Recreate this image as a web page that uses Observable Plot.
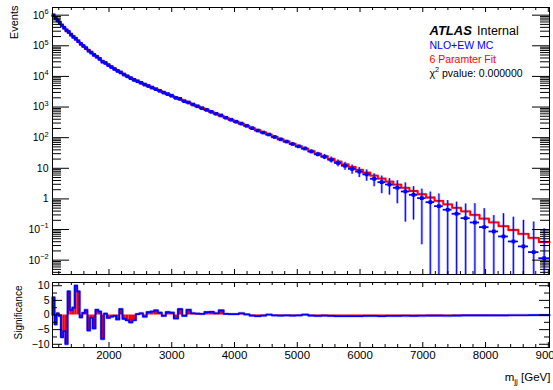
<!DOCTYPE html>
<html>
<head>
<meta charset="utf-8">
<script src="https://cdn.jsdelivr.net/npm/d3@7"></script>
<script src="https://cdn.jsdelivr.net/npm/@observablehq/plot@0.6"></script>
<style>
  html, body { margin: 0; padding: 0; background: #fff; overflow: hidden; }
  #chart { position: relative; width: 553px; height: 390px; background: #fff; }
  #chart svg { position: absolute; left: 0; }
</style>
</head>
<body>
<div id="chart"></div>
<script>
// Dijet invariant mass: NLO+EW MC compared with a 6-parameter fit, plus per-bin significance.

// Bin edges in m_jj [GeV]
const binEdges = [1100, 1133, 1166, 1200, 1234, 1269, 1305, 1341, 1378, 1416, 1454, 1493, 1533, 1573, 1614, 1656, 1698,
  1741, 1785, 1830, 1875, 1921, 1968, 2016, 2065, 2114, 2164, 2215, 2267, 2320, 2374, 2429, 2485, 2542, 2600,
  2659, 2719, 2780, 2842, 2905, 2969, 3034, 3100, 3167, 3235, 3305, 3376, 3448, 3521, 3596, 3672, 3749, 3827,
  3907, 3988, 4070, 4154, 4239, 4326, 4414, 4504, 4595, 4688, 4782, 4878, 4975, 5074, 5175, 5277, 5381, 5487,
  5595, 5705, 5817, 5931, 6047, 6165, 6285, 6407, 6531, 6658, 6787, 6918, 7052, 7188, 7326, 7467, 7610, 7756,
  7904, 8055, 8208, 8364, 8523, 8685, 8850, 9019];

// MC events per bin
const mcCounts = [9.95e5, 8.07e5, 6.79e5, 5.64e5, 4.61e5, 3.87e5, 3.19e5, 2.82e5, 2.31e5, 1.95e5,
  1.70e5, 1.41e5, 1.16e5, 9.85e4, 8.40e4, 6.91e4, 5.99e4, 5.03e4, 4.39e4, 3.74e4,
  3.02e4, 2.75e4, 2.34e4, 2.02e4, 1.75e4, 1.51e4, 1.35e4, 1.15e4, 1.01e4, 8.80e3,
  7.69e3, 6.95e3, 6.18e3, 5.42e3, 4.87e3, 4.32e3, 3.84e3, 3.39e3, 2.96e3, 2.65e3,
  2.34e3, 1.99e3, 1.85e3, 1.55e3, 1.41e3, 1.21e3, 1.06e3, 918, 806, 699,
  602, 532, 447, 385, 332, 288, 244, 204, 171, 147,
  127, 105, 88.2, 74.6, 62.0, 52.0, 44.2, 35.3, 28.6, 23.8,
  19.0, 14.9, 12.1, 9.55, 7.77, 6.30, 4.54, 3.52, 2.96, 2.31,
  1.75, 1.36, 1.06, 0.783, 0.579, 0.443, 0.327, 0.235, 0.170, 0.120,
  0.0865, 0.0594, 0.0408, 0.0281, 0.0183, 0.0116];

// MC statistical uncertainty, relative to the bin content
const mcRelErr = [0.003, 0.003, 0.003, 0.003, 0.003, 0.003, 0.003, 0.003, 0.003, 0.003,
  0.004, 0.004, 0.004, 0.004, 0.004, 0.004, 0.004, 0.004, 0.004, 0.004,
  0.006, 0.006, 0.006, 0.006, 0.006, 0.006, 0.006, 0.006, 0.006, 0.006,
  0.010, 0.010, 0.010, 0.010, 0.010, 0.010, 0.010, 0.010, 0.010, 0.010,
  0.016, 0.016, 0.016, 0.016, 0.016, 0.016, 0.016, 0.016, 0.016, 0.016,
  0.024, 0.024, 0.024, 0.024, 0.03, 0.035, 0.04, 0.045, 0.05, 0.055,
  0.06, 0.065, 0.07, 0.075, 0.08, 0.09, 0.11, 0.13, 0.16, 0.19,
  0.22, 0.25, 0.29, 0.33, 0.36, 0.40, 0.45, 0.58, 0.55, 0.70,
  0.90, 0.85, 0.97, 1.13, 1.5, 1.0, 1.4, 1.9, 3.1, 3.0,
  2.3, 4.5, 5.2, 6.1, 8.6, 8.1];

// Fit prediction per bin
const fitCounts = [9.77e5, 8.15e5, 6.78e5, 5.65e5, 4.72e5, 3.93e5, 3.29e5, 2.75e5, 2.30e5, 1.94e5,
  1.63e5, 1.37e5, 1.16e5, 9.82e4, 8.34e4, 7.06e4, 6.01e4, 5.12e4, 4.36e4, 3.72e4,
  3.18e4, 2.74e4, 2.35e4, 2.03e4, 1.75e4, 1.52e4, 1.33e4, 1.16e4, 1.02e4, 8.93e3,
  7.83e3, 6.93e3, 6.14e3, 5.45e3, 4.82e3, 4.27e3, 3.78e3, 3.36e3, 2.97e3, 2.62e3,
  2.31e3, 2.03e3, 1.79e3, 1.56e3, 1.37e3, 1.20e3, 1.05e3, 912, 793, 687,
  594, 513, 443, 382, 329, 282, 242, 206, 175, 149,
  126, 106, 89.5, 75.2, 63.0, 52.5, 43.7, 36.2, 30.0, 24.7,
  20.3, 16.6, 13.5, 11.0, 8.89, 7.16, 5.75, 4.60, 3.67, 2.91,
  2.30, 1.81, 1.42, 1.11, 0.859, 0.665, 0.512, 0.393, 0.299, 0.227,
  0.172, 0.129, 0.0966, 0.0719, 0.0532, 0.0391];

// Significance of MC vs fit per bin
const significance = [6.0, -3.2, 0.6, -0.3, -7.6, -5.5, -9.9, 8.1, 1.7, 2.5,
  10.0, 8.1, -0.8, 0.7, 1.7, -5.3, -1.0, -4.6, 1.8, 1.2,
  -8.2, 0.5, -1.0, -0.6, -0.3, -1.5, 2.0, -1.3, -1.8, -2.5,
  -1.8, 0.3, 0.6, -0.6, 1.0, 1.2, 1.6, 0.8, -0.3, 1.0,
  0.8, -1.2, 2.0, -0.3, 1.8, 0.6, 0.5, 0.4, 1.0, 1.1,
  0.6, 1.6, 0.4, 0.3, 0.3, 0.6, 0.2, -0.2, -0.4, -0.2,
  0.1, -0.1, -0.2, -0.1, -0.2, -0.1, 0.1, -0.2, -0.3, -0.2,
  -0.3, -0.4, -0.35, -0.4, -0.35, -0.3, -0.3, -0.35, -0.3, -0.3,
  -0.25, -0.3, -0.25, -0.2, -0.2, -0.25, -0.2, -0.15, -0.15, -0.15,
  -0.1, -0.1, -0.08, -0.08, -0.05, -0.05];

// Axis ticks and labels
const xMajorTicks = [2000, 3000, 4000, 5000, 6000, 7000, 8000, 9000];
const yMajorTicks = [1e-2, 1e-1, 1, 10, 1e2, 1e3, 1e4, 1e5, 1e6];
const yTickLabels = ["10^{-2}", "10^{-1}", "1", "10", "10^{2}", "10^{3}", "10^{4}", "10^{5}", "10^{6}"];
const sigMajorTicks = [-10, -5, 0, 5, 10];
const sigMinorTicks = [-7.5, -2.5, 2.5, 7.5];

const X_DOMAIN = [binEdges[0], binEdges[binEdges.length - 1]];
const Y_DOMAIN = [0.0034, 1.78e6];
const SIG_DOMAIN = [-11.1, 11.1];

const BLUE = "#0000ff";
const RED = "#ff0000";
const FONT = "'Liberation Sans', Arial, Helvetica, sans-serif";

// layout
const W = 553, ML = 52, MR = 4;
const H1 = 278, MT1 = 7, MB1 = 4;
const H2 = 112, MT2 = 4, MB2 = 43;
const FW = W - ML - MR;
const FH1 = H1 - MT1 - MB1;
const FH2 = H2 - MT2 - MB2;

const xMinorTicks = d3.range(1200, 9000, 200).filter(v => v % 1000 !== 0);
const yMinorTicks = d3.range(-3, 6).flatMap(e => d3.range(2, 10).map(k => k * 10 ** e))
  .filter(v => v > Y_DOMAIN[0] && v < Y_DOMAIN[1]);

const bins = binEdges.slice(0, -1).map((lo, i) => {
  const hi = binEdges[i + 1];
  const mc = mcCounts[i];
  const err = mcRelErr[i] * mc;
  return {
    lo, hi, mid: (lo + hi) / 2, mc, fit: fitCounts[i], sig: significance[i],
    upper: mc + err,
    lower: mc - err > Y_DOMAIN[0] ? mc - err : Y_DOMAIN[0]
  };
});

const fitSteps = bins.flatMap(b => [{x: b.lo, y: b.fit}, {x: b.hi, y: b.fit}]);
const sigSteps = [{x: X_DOMAIN[0], y: 0},
  ...bins.flatMap(b => [{x: b.lo, y: b.sig}, {x: b.hi, y: b.sig}]),
  {x: X_DOMAIN[1], y: 0}];

// inward ticks on all four sides of a frame
function frameTicks({xMajor, xMinor, yMajor, yMinor, fh, xLen, yLen}) {
  const [xl, xs] = xLen, [yl, ys] = yLen;
  return [
    Plot.tickX(xMajor, {x: d => d, insetTop: fh - xl, stroke: "black"}),
    Plot.tickX(xMinor, {x: d => d, insetTop: fh - xs, stroke: "black"}),
    Plot.tickX(xMajor, {x: d => d, insetBottom: fh - xl, stroke: "black"}),
    Plot.tickX(xMinor, {x: d => d, insetBottom: fh - xs, stroke: "black"}),
    Plot.tickY(yMajor, {y: d => d, insetRight: FW - yl, stroke: "black"}),
    Plot.tickY(yMinor, {y: d => d, insetRight: FW - ys, stroke: "black"}),
    Plot.tickY(yMajor, {y: d => d, insetLeft: FW - yl, stroke: "black"}),
    Plot.tickY(yMinor, {y: d => d, insetLeft: FW - ys, stroke: "black"})
  ];
}

const spectrumPlot = Plot.plot({
  width: W, height: H1,
  marginTop: MT1, marginBottom: MB1, marginLeft: ML, marginRight: MR,
  style: {fontFamily: FONT, background: "white"},
  x: {type: "linear", domain: X_DOMAIN, axis: null, label: null},
  y: {type: "log", domain: Y_DOMAIN, label: null},
  marks: [
    Plot.line(fitSteps, {x: "x", y: "y", stroke: RED, strokeWidth: 3, strokeOpacity: 0.3}),
    Plot.line(fitSteps, {x: "x", y: "y", stroke: RED, strokeWidth: 1.8}),
    Plot.ruleX(bins, {x: "mid", y1: "lower", y2: "upper", stroke: BLUE, strokeWidth: 2.6, strokeOpacity: 0.35}),
    Plot.ruleX(bins, {x: "mid", y1: "lower", y2: "upper", stroke: BLUE, strokeWidth: 1}),
    Plot.ruleY(bins, {y: "mc", x1: "lo", x2: "hi", stroke: BLUE, strokeWidth: 1.8}),
    Plot.dot(bins, {x: "mid", y: "mc", symbol: "square", r: 2.1, fill: BLUE}),
    ...frameTicks({xMajor: xMajorTicks, xMinor: xMinorTicks, yMajor: yMajorTicks, yMinor: yMinorTicks,
      fh: FH1, xLen: [5, 3], yLen: [17, 9]}),
    Plot.axisY({ticks: yMajorTicks, tickFormat: d => yTickLabels[yMajorTicks.indexOf(d)],
      tickSize: 0, tickPadding: 4, fontSize: 10.5}),
    Plot.frame({stroke: "black"}),
    Plot.text(["Events"], {frameAnchor: "top-left", dx: -35, dy: -2, rotate: -90,
      textAnchor: "end", lineAnchor: "bottom", fontSize: 11}),
    Plot.text(["ATLAS"], {frameAnchor: "top-left", dx: 377, dy: 27.5, textAnchor: "start",
      lineAnchor: "bottom", fontSize: 13, fontWeight: "bold", fontStyle: "italic"}),
    Plot.text(["Internal"], {frameAnchor: "top-left", dx: 424.5, dy: 27.5, textAnchor: "start",
      lineAnchor: "bottom", fontSize: 12.5}),
    Plot.text(["NLO+EW MC"], {frameAnchor: "top-left", dx: 377, dy: 41.3, textAnchor: "start",
      lineAnchor: "bottom", fontSize: 10.5, fill: BLUE}),
    Plot.text(["6 Paramter Fit"], {frameAnchor: "top-left", dx: 377, dy: 55.8, textAnchor: "start",
      lineAnchor: "bottom", fontSize: 10.5, fill: RED}),
    Plot.text(["χ^{2} pvalue: 0.000000"], {frameAnchor: "top-left", dx: 377, dy: 69, textAnchor: "start",
      lineAnchor: "bottom", fontSize: 10.5, fill: "black"})
  ]
});

const significancePlot = Plot.plot({
  width: W, height: H2,
  marginTop: MT2, marginBottom: MB2, marginLeft: ML, marginRight: MR,
  style: {fontFamily: FONT, background: "white"},
  x: {type: "linear", domain: X_DOMAIN, label: null},
  y: {domain: SIG_DOMAIN, label: null},
  marks: [
    Plot.rectY(bins, {x1: "lo", x2: "hi", y1: 0, y2: "sig", fill: RED, inset: 0}),
    Plot.line(sigSteps, {x: "x", y: "y", stroke: BLUE, strokeWidth: 2.8, strokeOpacity: 0.3}),
    Plot.line(sigSteps, {x: "x", y: "y", stroke: BLUE, strokeWidth: 1.7}),
    ...frameTicks({xMajor: xMajorTicks, xMinor: xMinorTicks, yMajor: sigMajorTicks, yMinor: sigMinorTicks,
      fh: FH2, xLen: [5, 3], yLen: [10, 5]}),
    Plot.axisY({ticks: sigMajorTicks, tickSize: 0, tickPadding: 3, fontSize: 10.5}),
    Plot.axisX({ticks: xMajorTicks, tickFormat: d => String(d), tickSize: 0, tickPadding: 3, fontSize: 11.5}),
    Plot.frame({stroke: "black"}),
    Plot.text(["Significance"], {frameAnchor: "left", dx: -31, dy: -2.5, rotate: -90,
      textAnchor: "middle", lineAnchor: "bottom", fontSize: 10}),
    Plot.text(["m_{jj} [GeV]"], {frameAnchor: "bottom-right", dx: 1, dy: 33, textAnchor: "end",
      lineAnchor: "bottom", fontSize: 11.5})
  ]
});

const chart = document.getElementById("chart");
spectrumPlot.style.top = "0px";
significancePlot.style.top = H1 + "px";
chart.append(spectrumPlot, significancePlot);

// turn ^{..} and _{..} markup into raised / lowered tspans
function richText(svg) {
  const ns = "http://www.w3.org/2000/svg";
  svg.querySelectorAll("text").forEach(node => {
    const s = node.textContent;
    if (!/[\^_]\{/.test(s)) return;
    const fs = parseFloat(getComputedStyle(node).fontSize) || 11;
    const parts = [];
    const re = /([\^_])\{([^}]*)\}/g;
    let last = 0, m;
    while ((m = re.exec(s))) {
      if (m.index > last) parts.push({t: s.slice(last, m.index), k: ""});
      parts.push({t: m[2].replace(/-/g, "\u2212"), k: m[1]});
      last = re.lastIndex;
    }
    if (last < s.length) parts.push({t: s.slice(last), k: ""});
    node.textContent = "";
    let cur = 0;
    for (const p of parts) {
      const off = p.k === "^" ? -0.42 * fs : p.k === "_" ? 0.3 * fs : 0;
      const ts = document.createElementNS(ns, "tspan");
      const dy = off - cur;
      cur = off;
      if (dy) ts.setAttribute("dy", dy.toFixed(2));
      if (p.k) ts.setAttribute("font-size", (0.7 * fs).toFixed(2));
      ts.textContent = p.t;
      node.appendChild(ts);
    }
  });
}
richText(spectrumPlot);
richText(significancePlot);
</script>
</body>
</html>
